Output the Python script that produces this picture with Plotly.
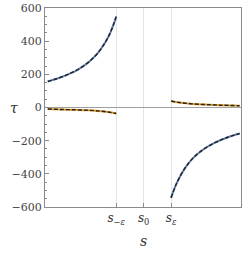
import plotly.graph_objects as go

s_upper_left = [-3.5, -3.2, -2.8, -2.4, -2.0, -1.7, -1.4, -1.2, -1.0]
tau_upper_left = [157, 172, 197, 229, 275, 323, 393, 458, 548]

s_lower_left = [-3.5, -3.0, -2.5, -2.0, -1.6, -1.3, -1.0]
tau_lower_left = [-9, -12, -14, -17, -22, -27, -36]

s_upper_right = [1.0, 1.3, 1.7, 2.2, 2.8, 3.5]
tau_upper_right = [39, 30, 23, 18, 14, 11]

s_lower_right = [1.0, 1.2, 1.5, 1.8, 2.2, 2.6, 3.0, 3.5]
tau_lower_right = [-545, -458, -367, -305, -250, -212, -184, -157]

x_tick_vals = [-1.0, 0.0, 1.0]
x_tick_text = ["<i>s</i><sub>−<i>ε</i></sub>", "<i>s</i><sub>0</sub>", "<i>s</i><sub><i>ε</i></sub>"]
y_tick_vals = [-600, -400, -200, 0, 200, 400, 600]
y_tick_text = ["−600", "−400", "−200", "0", "200", "400", "600"]

BLUE = "#5E81B5"
ORANGE = "#E19C24"

fig = go.Figure()

def add_curve(xs, ys, color):
    fig.add_trace(go.Scatter(x=xs, y=ys, mode="lines", line=dict(color=color, width=2, shape="spline"),
                             hoverinfo="skip", showlegend=False))
    fig.add_trace(go.Scatter(x=xs, y=ys, mode="lines",
                             line=dict(color="#222222", width=1.4, dash="4px,2px", shape="spline"),
                             hoverinfo="skip", showlegend=False))

add_curve(s_upper_left, tau_upper_left, BLUE)
add_curve(s_lower_left, tau_lower_left, ORANGE)
add_curve(s_upper_right, tau_upper_right, ORANGE)
add_curve(s_lower_right, tau_lower_right, BLUE)

SERIF = "DejaVu Serif"
font = dict(family=SERIF, size=11, color="#444444")

fig.update_layout(
    width=244, height=258,
    margin=dict(l=45, r=3, t=8, b=51),
    paper_bgcolor="white", plot_bgcolor="white",
    font=font,
    xaxis=dict(range=[-3.6, 3.55], tickvals=x_tick_vals, ticktext=x_tick_text,
               showgrid=True, gridcolor="#e4e4e4", gridwidth=1,
               zeroline=False, showline=True, linecolor="#8a8a8a", linewidth=1, mirror=True,
               ticks="inside", ticklen=4, tickcolor="#8a8a8a", tickfont=dict(family=SERIF, size=12, color="#333333")),
    yaxis=dict(range=[-600, 600], tickvals=y_tick_vals, ticktext=y_tick_text,
               showgrid=False, zeroline=True, zerolinecolor="#a0a0a0", zerolinewidth=1,
               showline=True, linecolor="#8a8a8a", linewidth=1, mirror=True,
               ticks="inside", ticklen=4, tickcolor="#8a8a8a", tickfont=font,
               minor=dict(dtick=50, ticks="inside", ticklen=2, tickcolor="#8a8a8a", showgrid=False)),
    annotations=[
        dict(text="<i>τ</i>", xref="paper", yref="paper", x=-0.19, y=0.5, showarrow=False,
             font=dict(family=SERIF, size=14, color="#333333")),
        dict(text="<i>s</i>", xref="paper", yref="paper", x=0.5, y=-0.17, showarrow=False,
             xanchor="center", yanchor="middle",
             font=dict(family=SERIF, size=14, color="#333333")),
    ],
)

fig.write_html("out.html", config={"displayModeBar": False, "staticPlot": True},
               post_script="document.body.style.margin='0';document.body.style.overflow='hidden';")
